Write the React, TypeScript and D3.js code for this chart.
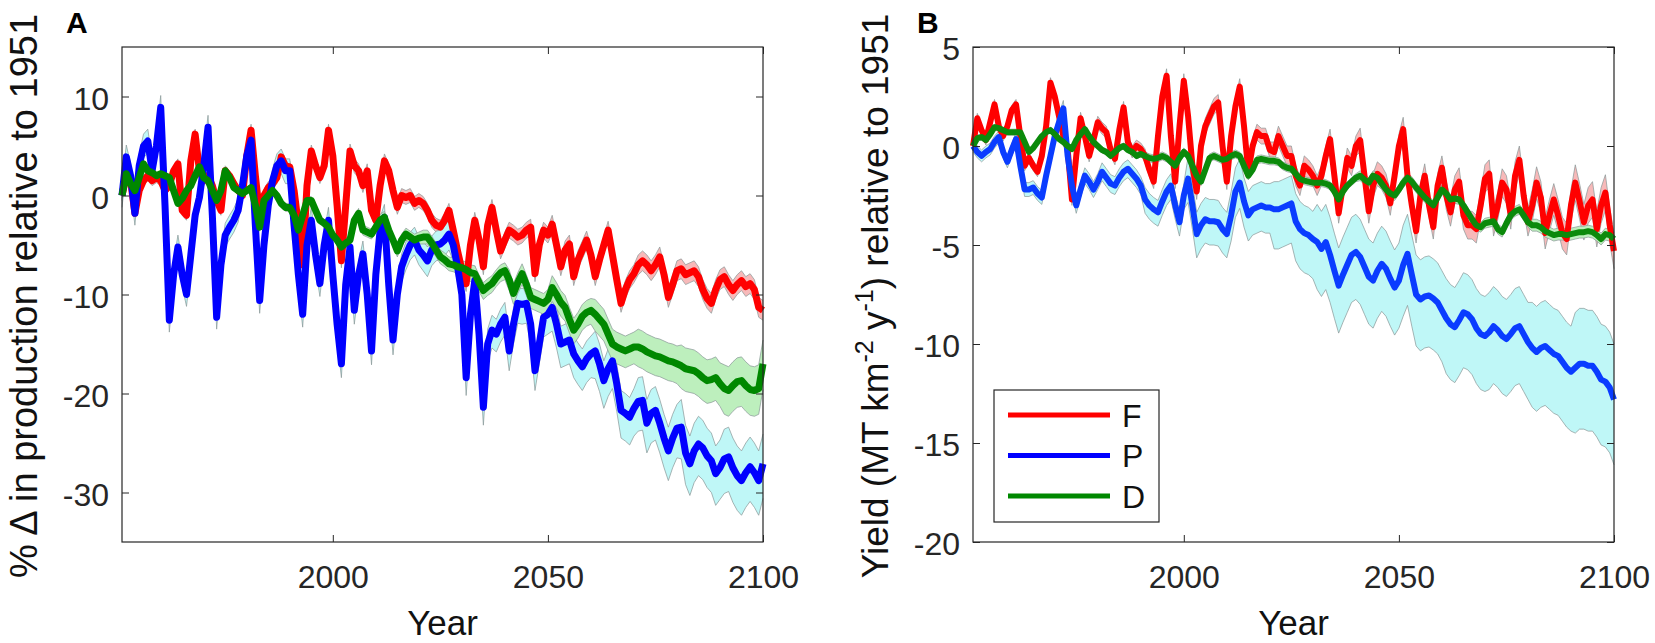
import React, { useEffect, useRef } from 'react';
import * as d3 from 'd3';

const FONT = '"Liberation Sans", Arial, Helvetica, sans-serif';
const AXIS = '#262626';

const firstYear = 1951;
const lastYear = 2100;
const years = d3.range(firstYear, lastYear + 1);

// ---- Panel A: % change in production relative to 1951 (yearly, 1951-2100)
const prodF = [
  0, 2, 1.5, -1.8, 0.5, 1.5, 2, 1.5, 1.8, 1.5,
  0.5, 1, 2.5, 3.2, -1.5, -2, 3.5, 6.2, 2.5, 1.5,
  2, 1, -0.5, -1.5, 2.5, 2, 1.2, 0.5, 0, 4,
  6.6, 2, -2, 0, 0.8, 1.2, 1.8, 3.9, 3, 2.9,
  0.5, -3, -7, 1, 4.5, 3, 1.8, 3, 6.6, 4,
  -1, -6.6, -1, 4.5, 3, 2.5, 1, 2.5, -1.5, -2.5,
  1, 3.5, 2.5, 0.5, -1.2, 0, -0.2, 0, -0.8, -0.5,
  -0.8, -1.5, -2.5, -3, -3.2, -2.5, -1.5, -3.5, -5.6, -7.5,
  -8.9, -5, -2.5, -4.5, -7.2, -3, -1.2, -3.5, -5.6, -4.5,
  -3.5, -3.8, -4.2, -4, -3.5, -3.2, -7.9, -5, -3.5, -4,
  -2.9, -5, -7.2, -5.5, -4.9, -8.2, -6.5, -5.5, -4.5, -6,
  -8.2, -6.5, -5, -3.5, -6, -8.5, -10.9, -9.5, -8.5, -7.9,
  -7, -6.6, -7, -7.6, -7, -6.2, -8, -10.3, -9, -7.6,
  -7.4, -8, -7.8, -7.6, -8.2, -9.5, -10.4, -10.9, -9.5, -8.5,
  -8.2, -9, -9.6, -9, -8.6, -9.2, -8.9, -9.5, -11.3, -11.6,
];
const prodP = [
  0, 3.9, 2, -1.8, 3, 5, 5.5, 2.5, 5, 8.9,
  -1, -12.6, -8, -5.2, -8, -10, -6, -2, -0.2, 3,
  6.9, -2, -12.3, -7, -4, -3.2, -2.5, -1.5, 1, 4,
  5.6, -3, -10.6, -5, -1, 1.5, 3, 3.5, 2.5, 2.5,
  -3, -8, -12, -5, -2.5, -6, -8.9, -5, -2.5, -8,
  -13, -17, -9, -5.2, -11.6, -8, -5.9, -10, -15.7, -8,
  -3.5, -2.2, -9, -14.6, -10, -7.2, -6, -5, -4.5, -5.5,
  -6, -6.6, -5.5, -5, -4.9, -4.5, -3.9, -5, -7.2, -10,
  -18.4, -12, -8.6, -14, -21.4, -15, -13.6, -14, -13, -12.3,
  -15.7, -13, -10.9, -11, -10.9, -13, -17.7, -15, -12.3, -12,
  -11.3, -13, -15, -14.8, -14.6, -16, -16.7, -17.3, -16.5, -16,
  -15.7, -17, -18.7, -17.5, -16.7, -19, -21.7, -22, -22.4, -21.5,
  -20.8, -20.7, -23, -22, -21.7, -23, -24.5, -25.8, -24.5, -23.5,
  -23.4, -26, -27.1, -25.8, -25.1, -25.5, -26.3, -26.8, -28.1, -27.5,
  -26.6, -26.4, -27.5, -28.3, -28.8, -28, -27.4, -28, -28.8, -27.1,
];
const prodD = [
  0, 2.2, 1.2, 0.5, 1.8, 3.2, 2.5, 2.3, 2, 2.2,
  2, 1.8, 0.5, -0.8, -0.3, 0.5, 1, 2, 2.9, 1.8,
  1.5, 0.5, -0.5, 0.5, 2.5, 1.8, 0.8, 0.5, 0.2, 0.5,
  0.8, -1, -3.2, -0.5, 0, 0.5, 0, -0.8, -1.2, -1.2,
  -2, -3.5, -2, -0.5, -0.5, -1.5, -2.5, -2.8, -3.2, -4,
  -4.5, -5.2, -4.8, -4.5, -2.5, -1.8, -3.5, -3.7, -3.9, -3.2,
  -2.5, -2.2, -3.5, -4.5, -5.6, -4.5, -3.9, -4.2, -4.5, -4.3,
  -4.2, -4.2, -4.8, -5.5, -6.2, -6.5, -6.9, -7, -7.2, -7.3,
  -7.5, -7.8, -7.9, -8.8, -9.6, -9.2, -8.9, -8.3, -7.8, -7.6,
  -8.5, -9.9, -8.8, -7.9, -9, -10.3, -10.5, -10.7, -10.9, -10.5,
  -9.3, -10, -10.8, -11.3, -12.5, -13.6, -13, -12.2, -11.8, -11.6,
  -12, -12.5, -13, -14, -15, -15.3, -15.5, -15.7, -15.5, -15.3,
  -15.3, -15.5, -15.8, -16, -16.2, -16.3, -16.5, -16.7, -16.8, -17,
  -17.2, -17.5, -17.6, -17.7, -18, -18.4, -18.7, -18.6, -18.4, -19,
  -19.5, -19.7, -19.2, -18.8, -18.7, -19.2, -19.6, -19.7, -19.5, -17,
];
// ensemble spread above / below the mean, one value per decade (1951-60 ... 2091-2100)
const prodSpreadF = [0.5, 0.5, 0.5, 0.6, 0.6, 0.7, 0.7, 0.7, 0.8, 0.8, 0.9, 0.9, 1.0, 1.0, 1.0];
const prodUpP = [1.2, 1.2, 1.2, 1.2, 1.3, 1.3, 1.3, 1.4, 1.5, 1.6, 1.8, 2.0, 2.4, 2.8, 3.0];
const prodDownP = [1.2, 1.2, 1.2, 1.3, 1.3, 1.4, 1.5, 1.6, 1.8, 2.0, 2.4, 2.8, 3.0, 3.2, 3.5];
const prodUpD = [0.3, 0.3, 0.3, 0.4, 0.4, 0.5, 0.6, 0.7, 0.8, 1.0, 1.2, 1.5, 1.8, 2.1, 2.4];
const prodDownD = [0.3, 0.3, 0.3, 0.4, 0.4, 0.5, 0.6, 0.7, 0.9, 1.1, 1.4, 1.7, 2.0, 2.3, 2.6];

// ---- Panel B: yield (MT km-2 y-1) relative to 1951
const yieldF = [
  0, 1.4, 0.8, 0.3, 1.2, 2.1, 1, 0.5, 1, 1.8,
  2.1, 0.5, -1, -0.6, -1, -1.3, -0.5, 1, 3.2, 2.5,
  1.5, 0.5, -0.15, -2.7, -0.5, 1.4, 0.5, -0.5, 0.3, 1.2,
  0.9, 0.7, -0.2, -0.65, 0.8, 1.95, 0.2, -0.3, 0, -0.15,
  -0.5, -1.2, -1.8, 0.5, 2.5, 3.55, 0.5, -1.8, 1, 3.3,
  1.5, -1, -2.3, 0, 1, 1.5, 2, 2.2, 0, -1.8,
  0.5, 2, 3, 1, -1.3, 0, 0.7, 0.5, 0.5, -0.2,
  -0.3, 0.5, 0, -0.5, -0.5, -1.5, -2, -1, -1.2, -1.5,
  -2, -1.5, -0.5, 0.35, -1.5, -3.4, -2, -0.6, -1, 0,
  0.3, -1.5, -3.3, -2, -1.4, -1.6, -2, -2.9, -1.5, 0,
  0.85, -1.5, -3, -4.3, -2.5, -1.5, -3, -4.1, -2, -1.1,
  -2.5, -3.35, -2.2, -1.8, -3.5, -4, -4, -4.2, -3, -1.65,
  -1.4, -3.85, -3, -1.85, -2.2, -3.5, -1.5, -0.7, -2.5, -3.85,
  -3, -1.85, -2.6, -4.4, -3.5, -2.7, -3.5, -4.4, -4.7, -3,
  -1.85, -2.8, -3.85, -3, -2.7, -4.2, -3, -2.35, -4, -5.3,
];
const yieldP = [
  0, -0.3, -0.5, -0.3, -0.15, 0.2, 0.45, -0.3, -0.8, -0.2,
  0.35, -1, -2.2, -2.2, -2.1, -2.4, -2.6, -1.5, -0.5, 0.5,
  1.2, 1.9, -0.5, -2, -3, -2.2, -1.5, -1.8, -2.2, -1.8,
  -1.3, -1.6, -1.9, -2, -1.6, -1.3, -1.15, -1.4, -1.65, -2,
  -2.7, -3, -3.2, -3.35, -2.8, -2.3, -2, -3, -3.85, -2.5,
  -1.65, -3, -4.45, -4, -3.7, -3.8, -3.8, -3.85, -4.2, -4.45,
  -3.5, -2.3, -1.85, -2.8, -3.5, -3.2, -3.1, -3, -3.1, -3.1,
  -3.2, -3.2, -3.1, -3, -2.9, -3.8, -4.2, -4.4, -4.5, -4.7,
  -4.85, -5.2, -4.85, -5.5, -6.3, -7.05, -6.5, -6, -5.5, -5.35,
  -5.6, -6.1, -6.6, -6.8, -6.3, -5.95, -6.2, -6.7, -7.15, -6.8,
  -6, -5.45, -6.5, -7.5, -7.75, -7.6, -7.55, -7.7, -7.9, -8.3,
  -8.7, -9, -9.15, -8.8, -8.4, -8.5, -8.75, -9.2, -9.5, -9.6,
  -9.4, -9.1, -9.3, -9.6, -9.75, -9.5, -9.2, -9.1, -9.5, -9.9,
  -10.2, -10.4, -10.2, -10.1, -10.3, -10.5, -10.6, -10.9, -11.2, -11.4,
  -11.2, -11, -11, -11.1, -11.1, -11.4, -11.8, -11.9, -12.2, -12.8,
];
const yieldD = [
  0, 0.4, 0.45, 0.3, 0.6, 0.95, 0.9, 0.8, 0.7, 0.7,
  0.7, 0.7, 0.2, -0.3, -0.1, 0.2, 0.5, 0.7, 0.8, 0.6,
  0.35, 0.2, 0, -0.15, 0.3, 0.6, 0.85, 0.5, 0.2, 0,
  -0.2, -0.3, -0.5, -0.3, -0.1, 0, -0.2, -0.3, -0.5, -0.4,
  -0.5, -0.6, -0.65, -0.6, -0.5, -0.6, -0.8, -1, -0.6, -0.3,
  -0.5, -1, -1.5, -1.8, -1.2, -0.6, -0.5, -0.6, -0.7, -0.65,
  -0.5, -0.4, -0.5, -1, -1.5, -1.2, -0.7, -0.65, -0.7, -0.75,
  -0.75, -0.8, -1, -1.1, -1.15, -1.4, -1.65, -1.75, -1.8, -1.85,
  -1.85, -1.85, -1.9, -2, -2.3, -2.7, -2.3, -2, -1.8, -1.6,
  -1.5, -1.7, -1.85, -1.5, -1.6, -1.9, -2.2, -2.4, -2.5, -2.2,
  -1.85, -1.6, -1.8, -2.1, -2.35, -2.6, -2.8, -3, -2.6, -2.2,
  -2.4, -2.7, -2.65, -2.7, -3, -3.35, -3.7, -4, -4.1, -3.9,
  -3.85, -3.8, -4.2, -4.35, -3.9, -3.5, -3.3, -3.2, -3.5, -3.85,
  -4, -4, -4.1, -4.3, -4.4, -4.5, -4.45, -4.45, -4.5, -4.45,
  -4.4, -4.35, -4.35, -4.3, -4.35, -4.5, -4.7, -4.45, -4.5, -4.7,
];
const yieldSpreadF = [0.25, 0.25, 0.3, 0.3, 0.35, 0.4, 0.4, 0.5, 0.5, 0.6, 0.6, 0.7, 0.7, 0.8, 0.9];
const yieldUpP = [0.3, 0.35, 0.4, 0.45, 0.6, 1.1, 1.2, 1.4, 1.9, 1.9, 2.0, 2.0, 2.0, 2.3, 2.8];
const yieldDownP = [0.3, 0.35, 0.4, 0.45, 0.7, 1.2, 1.3, 2.0, 2.4, 2.4, 2.6, 2.8, 2.9, 3.0, 3.3];
const yieldSpreadD = [0.15, 0.15, 0.15, 0.15, 0.2, 0.2, 0.2, 0.2, 0.2, 0.25, 0.25, 0.25, 0.25, 0.3, 0.3];

const xTicks = [2000, 2050, 2100];
const prodTicks = [-30, -20, -10, 0, 10];
const yieldTicks = [-20, -15, -10, -5, 0, 5];
const legendLabels = ['F', 'P', 'D'];
const legendColors = ['#ff0000', '#0000ff', '#008800'];

interface Series {
  values: number[];
  up: number[];
  down: number[];
  line: string;
  band: string;
}

interface PanelCfg {
  letter: string;
  left: number;
  top: number;
  width: number;
  height: number;
  yDomain: [number, number];
  yTicks: number[];
  lineWidth: number;
  series: Series[];
}

const panels: PanelCfg[] = [
  {
    letter: 'A', left: 122, top: 47, width: 641, height: 495,
    yDomain: [-35, 15], yTicks: prodTicks, lineWidth: 7,
    series: [
      { values: prodF, up: prodSpreadF, down: prodSpreadF, line: '#ff0000', band: '#f7b9b9' },
      { values: prodP, up: prodUpP, down: prodDownP, line: '#0000ff', band: '#bff7f7' },
      { values: prodD, up: prodUpD, down: prodDownD, line: '#008800', band: '#bdefbd' },
    ],
  },
  {
    letter: 'B', left: 973, top: 47, width: 641, height: 495,
    yDomain: [-20, 5], yTicks: yieldTicks, lineWidth: 6,
    series: [
      { values: yieldF, up: yieldSpreadF, down: yieldSpreadF, line: '#ff0000', band: '#f7b9b9' },
      { values: yieldP, up: yieldUpP, down: yieldDownP, line: '#0a3cff', band: '#bff7f7' },
      { values: yieldD, up: yieldSpreadD, down: yieldSpreadD, line: '#0b8a0b', band: '#bdefbd' },
    ],
  },
];

type Sel = d3.Selection<SVGSVGElement, unknown, null, undefined>;

function drawPanel(svg: Sel, p: PanelCfg) {
  const x = d3.scaleLinear().domain([firstYear, lastYear]).range([p.left, p.left + p.width]);
  const y = d3.scaleLinear().domain(p.yDomain).range([p.top + p.height, p.top]);
  const dec = (i: number) => Math.floor(i / 10);
  const g = svg.append('g');

  // Bands (ensemble range) with thin grey outlines
  p.series.forEach(s => {
    const area = d3.area<number>()
      .x((_, i) => x(years[i]))
      .y0((v, i) => y(v - s.down[dec(i)]))
      .y1((v, i) => y(v + s.up[dec(i)]));
    g.append('path').datum(s.values).attr('fill', s.band).attr('d', area);

    const upper = d3.line<number>().x((_, i) => x(years[i])).y((v, i) => y(v + s.up[dec(i)]));
    const lower = d3.line<number>().x((_, i) => x(years[i])).y((v, i) => y(v - s.down[dec(i)]));
    [upper, lower].forEach(gen => {
      g.append('path')
        .datum(s.values)
        .attr('fill', 'none')
        .attr('stroke', '#8a9898')
        .attr('stroke-opacity', 0.8)
        .attr('stroke-width', 0.9)
        .attr('d', gen);
    });
  });

  // Mean lines
  p.series.forEach(s => {
    const line = d3.line<number>().x((_, i) => x(years[i])).y(v => y(v));
    g.append('path')
      .datum(s.values)
      .attr('fill', 'none')
      .attr('stroke', s.line)
      .attr('stroke-width', p.lineWidth)
      .attr('stroke-linejoin', 'round')
      .attr('d', line);
  });

  // Box
  g.append('rect')
    .attr('x', p.left)
    .attr('y', p.top)
    .attr('width', p.width)
    .attr('height', p.height)
    .attr('fill', 'none')
    .attr('stroke', AXIS)
    .attr('stroke-width', 1.2);

  const style = (a: d3.Selection<SVGGElement, unknown, null, undefined>) => {
    a.select('.domain').remove();
    a.attr('color', AXIS).attr('font-family', FONT).attr('font-size', 32);
  };

  // Axes (ticks point inwards, MATLAB style)
  g.append('g')
    .attr('transform', `translate(${p.left},0)`)
    .call(d3.axisLeft(y).tickValues(p.yTicks).tickSizeInner(-7).tickSizeOuter(0).tickPadding(13).tickFormat(d => String(d)))
    .call(style)
    .selectAll('text')
    .attr('dy', '0.4em');

  g.append('g')
    .attr('transform', `translate(${p.left + p.width},0)`)
    .call(d3.axisRight(y).tickValues(p.yTicks).tickSizeInner(-7).tickSizeOuter(0).tickFormat(() => ''))
    .call(style);

  g.append('g')
    .attr('transform', `translate(0,${p.top + p.height})`)
    .call(d3.axisBottom(x).tickValues(xTicks).tickSizeInner(-7).tickSizeOuter(0).tickPadding(23).tickFormat(d => String(d)))
    .call(style);

  g.append('g')
    .attr('transform', `translate(0,${p.top})`)
    .call(d3.axisTop(x).tickValues(xTicks).tickSizeInner(-7).tickSizeOuter(0).tickFormat(() => ''))
    .call(style);

  // X label
  g.append('text')
    .attr('x', p.left + p.width / 2)
    .attr('y', 635)
    .attr('text-anchor', 'middle')
    .attr('font-family', FONT)
    .attr('font-size', 35)
    .attr('fill', '#111')
    .text('Year');

  // Panel letter
  g.append('text')
    .attr('x', p.left - 56)
    .attr('y', 33)
    .attr('font-family', FONT)
    .attr('font-size', 30)
    .attr('font-weight', 'bold')
    .attr('fill', '#000')
    .text(p.letter);
}

function drawYLabels(svg: Sel) {
  const cy = 296;
  svg.append('text')
    .attr('transform', `translate(37,${cy}) rotate(-90)`)
    .attr('text-anchor', 'middle')
    .attr('font-family', FONT)
    .attr('font-size', 38)
    .attr('fill', '#111')
    .text('% \u0394 in production relative to 1951');

  const t = svg.append('text')
    .attr('transform', `translate(888,${cy}) rotate(-90)`)
    .attr('text-anchor', 'middle')
    .attr('font-family', FONT)
    .attr('font-size', 37)
    .attr('fill', '#111');
  t.append('tspan').text('Yield (MT km');
  t.append('tspan').attr('font-size', 25).attr('dy', -15).text('-2');
  t.append('tspan').attr('dy', 15).text(' y');
  t.append('tspan').attr('font-size', 25).attr('dy', -15).text('-1');
  t.append('tspan').attr('dy', 15).text(') relative to 1951');
}

function drawLegend(svg: Sel) {
  const g = svg.append('g').attr('transform', 'translate(994,390)');
  g.append('rect')
    .attr('width', 165)
    .attr('height', 132)
    .attr('fill', '#fff')
    .attr('stroke', AXIS)
    .attr('stroke-width', 1.2);
  legendLabels.forEach((label, i) => {
    const row = g.append('g').attr('transform', `translate(0,${25 + i * 40.5})`);
    row.append('line')
      .attr('x1', 14)
      .attr('x2', 116)
      .attr('stroke', legendColors[i])
      .attr('stroke-width', 5);
    row.append('text')
      .attr('x', 128)
      .attr('y', 11.5)
      .attr('font-family', FONT)
      .attr('font-size', 32)
      .attr('fill', '#111')
      .text(label);
  });
}

export default function App() {
  const svgRef = useRef<SVGSVGElement>(null);

  useEffect(() => {
    if (!svgRef.current) return;
    const svg = d3.select(svgRef.current);
    svg.selectAll('*').remove();
    panels.forEach(p => drawPanel(svg, p));
    drawYLabels(svg);
    drawLegend(svg);
  }, []);

  return (
    <svg
      ref={svgRef}
      width={1655}
      height={643}
      style={{ position: 'absolute', left: 0, top: 0, background: '#fff' }}
    />
  );
}
